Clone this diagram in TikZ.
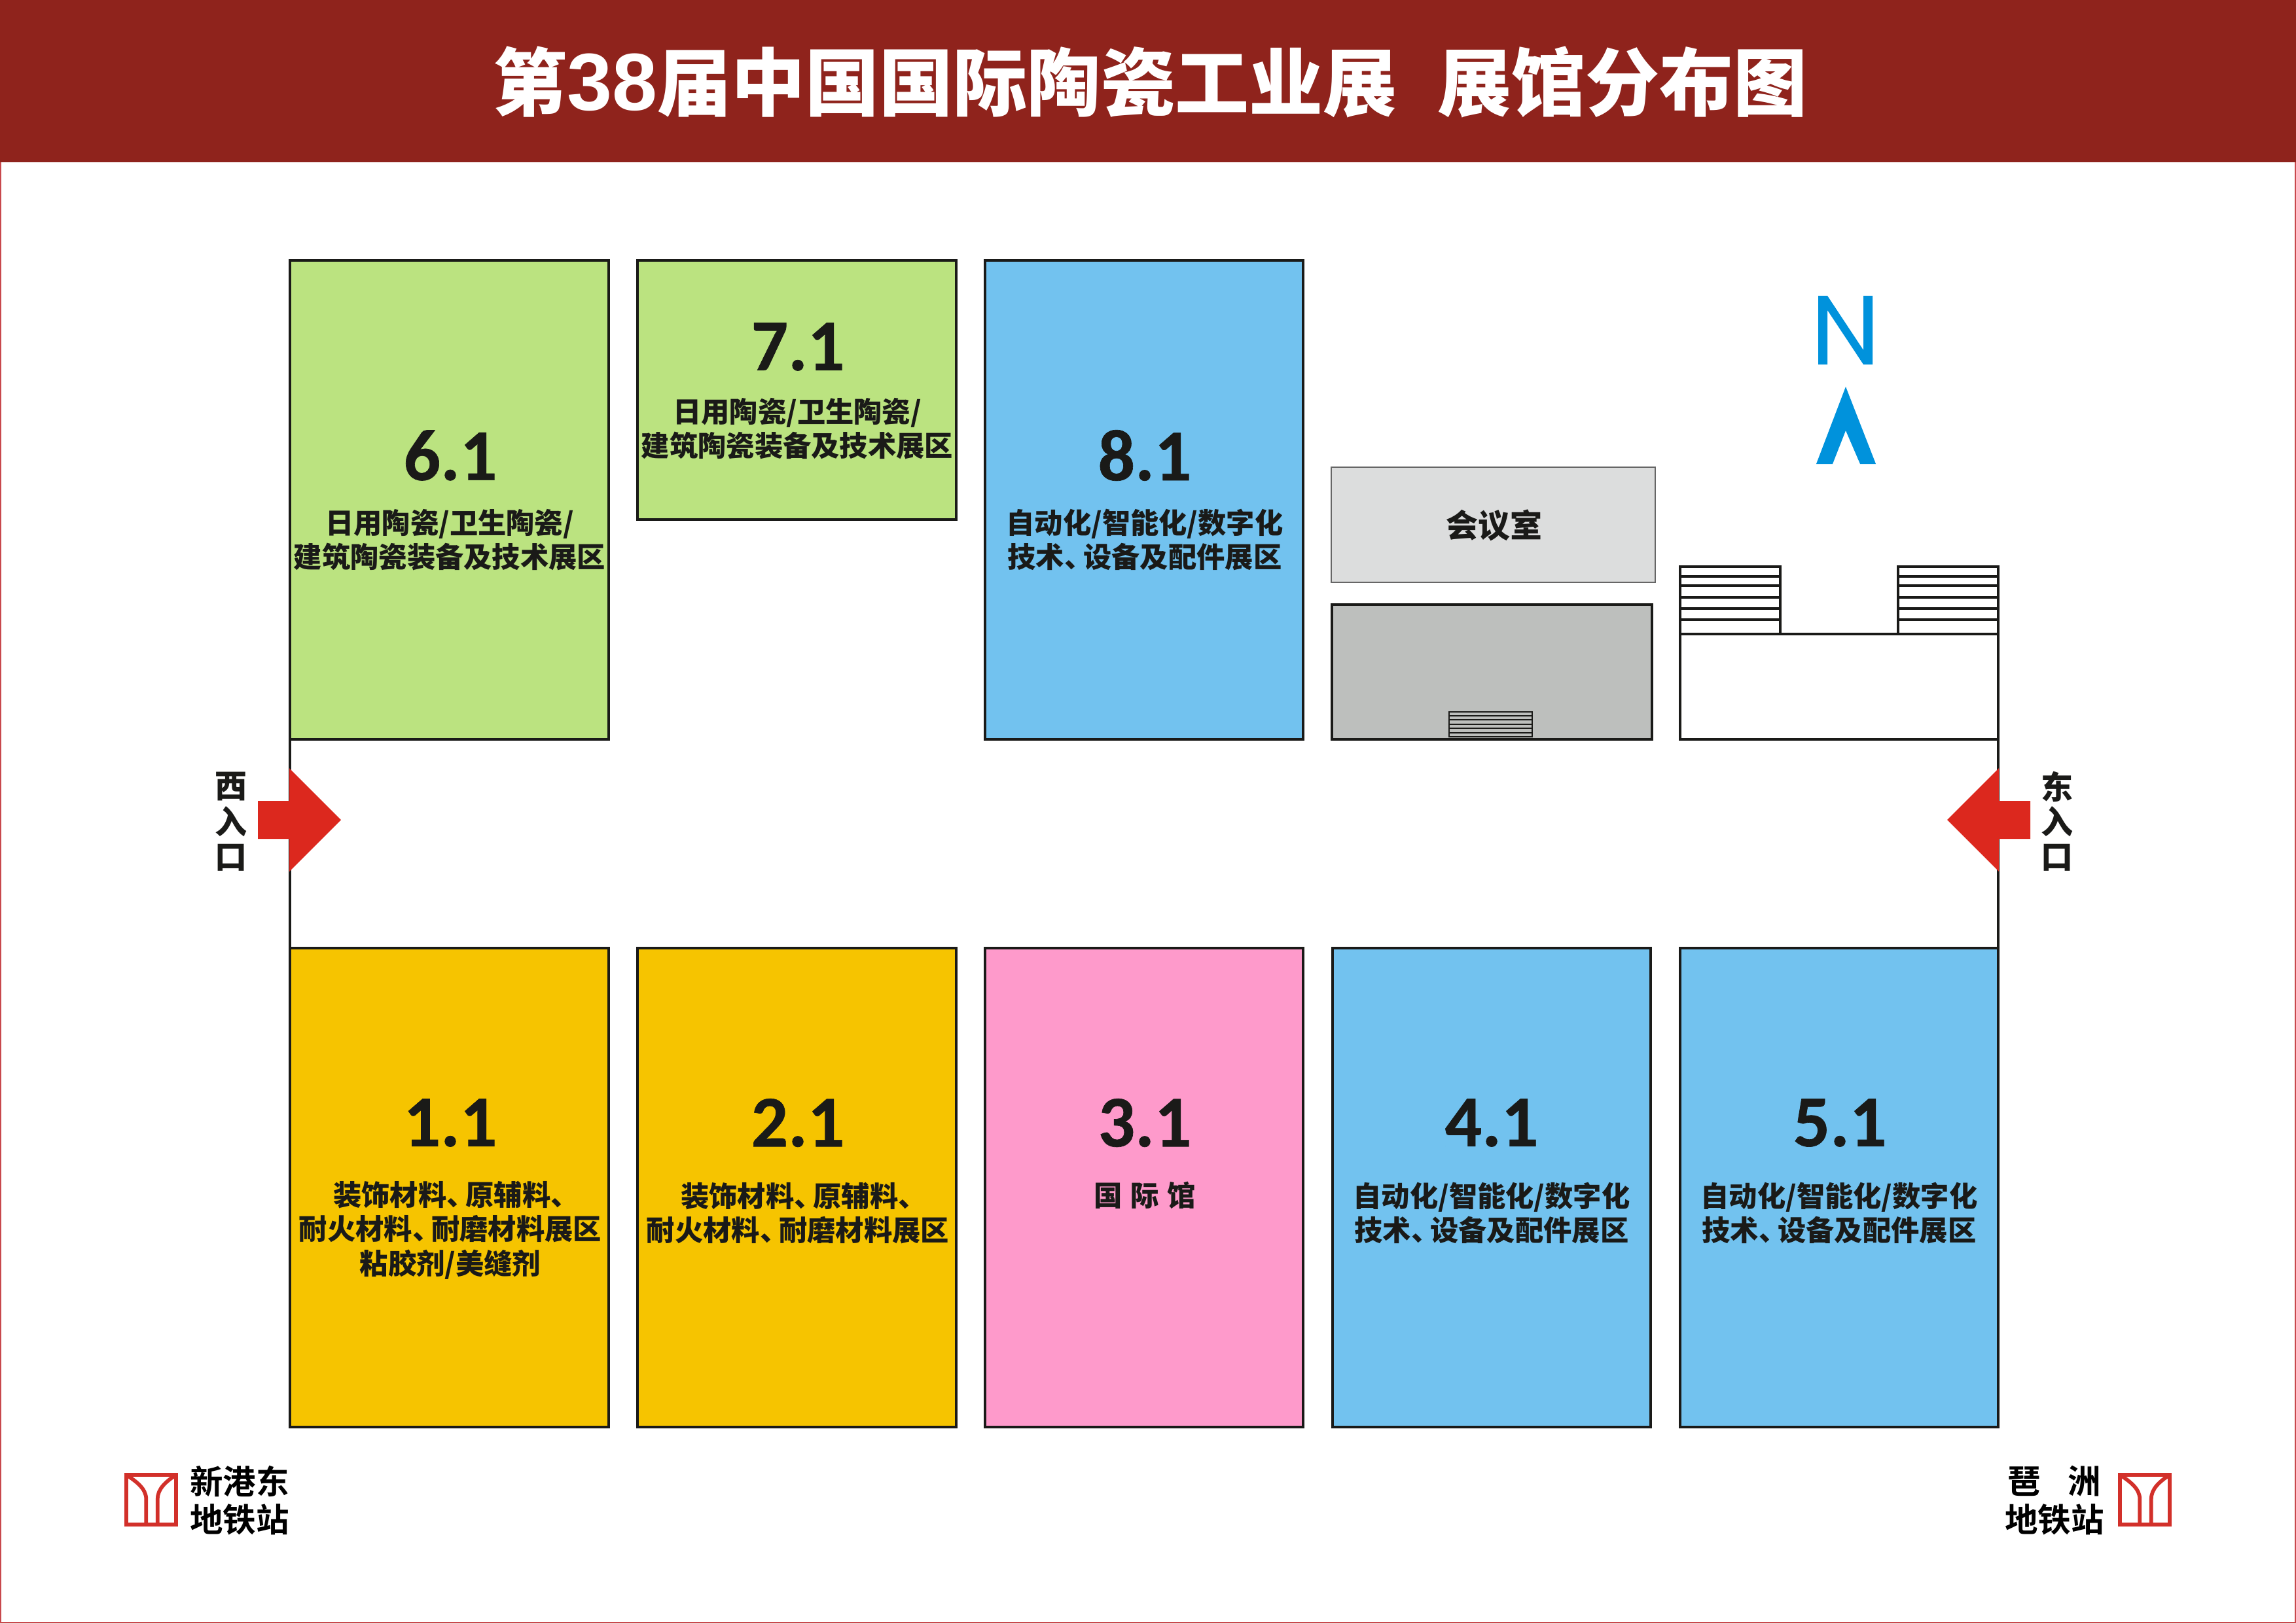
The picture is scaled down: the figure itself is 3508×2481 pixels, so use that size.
\documentclass[tikz,border=0pt]{standalone}
\usepackage{fontspec}
\setmainfont{Noto Sans CJK SC}[BoldFont={Noto Sans CJK SC Bold}]
\newfontfamily\numfont{Carlito Bold}[FakeBold=0.6]
\newfontfamily\blackfont{Noto Sans CJK SC Black}
\newfontfamily\medfont{Noto Sans CJK SC Bold}
\newfontfamily\titledigits{Liberation Sans Bold}
\definecolor{banner}{HTML}{8F231C}
\definecolor{frameline}{HTML}{C8484C}
\definecolor{hallgreen}{HTML}{BBE380}
\definecolor{hallblue}{HTML}{72C2EF}
\definecolor{hallyellow}{HTML}{F6C400}
\definecolor{hallpink}{HTML}{FE9ACB}
\definecolor{meetgray}{HTML}{DCDDDD}
\definecolor{blockgray}{HTML}{BDBFBD}
\definecolor{entryred}{HTML}{DC281E}
\definecolor{logored}{HTML}{D2302A}
\definecolor{northblue}{HTML}{0092DC}
\definecolor{inkblack}{HTML}{1A1A18}
\newcommand{\dun}{、\hspace{-0.33em}}
\newcommand{\dunend}{\rlap{、}\kern0.59em}
\tikzset{
  hallbox/.style={draw=inkblack,line width=0.8pt},
  hallnum/.style={font=\numfont\fontsize{22.3}{26}\selectfont,text=inkblack,inner sep=0pt},
  halltext/.style={font=\blackfont\fontsize{8.66}{10.5}\selectfont,text=inkblack,align=center,inner sep=0pt},
  entrytext/.style={font=\blackfont\fontsize{9.8}{11}\selectfont,text=inkblack,inner sep=0pt},
  metrotext/.style={font=\medfont\fontsize{10.1}{11}\selectfont,text=black,inner sep=0pt},
  metrologo/.style={draw=logored,line width=1.15pt},
  thinline/.style={draw=inkblack,line width=0.22pt},
  stairline/.style={draw=inkblack,line width=0.8pt}
}
\newcommand{\metrosign}[1]{%
  \begin{scope}[xshift=#1*0.2pt]
    \draw[metrologo,miter limit=10] (2.9,2253.9) rectangle (79.1,2330.1);
    \draw[metrologo] (3,2254) .. controls (18,2264) and (33.3,2275) .. (33.3,2291) -- (33.3,2330);
    \draw[metrologo] (79,2254) .. controls (64,2264) and (50.8,2275) .. (50.8,2291) -- (50.8,2330);
  \end{scope}}
\begin{document}
\begin{tikzpicture}[x=0.2pt,y=-0.2pt]
\useasboundingbox (0,0) rectangle (3508,2481);
\fill[white] (0,0) rectangle (3508,2481);
\draw[frameline,line width=0.5pt] (1,1) rectangle (3507,2480);
\fill[banner] (0,0) rectangle (3508,248);
\node[font=\blackfont\fontsize{22.6}{26}\selectfont,text=white,inner sep=0pt] (title) at (1758,125) {第{\titledigits\fontsize{24.8}{26}\selectfont 38}届中国国际陶瓷工业展\hspace{0.55em}展馆分布图};

% corridor walls
\coordinate (wnw) at (443,1130); \coordinate (wsw) at (443,1449);
\coordinate (ene) at (3053,1130); \coordinate (ese) at (3053,1449);
\draw[hallbox] (wnw) -- (wsw);
\draw[hallbox] (ene) -- (ese);

% halls
\draw[hallbox,fill=hallgreen] (443,398) rectangle (930,1130);
\draw[hallbox,fill=hallgreen] (974,398) rectangle (1461,794);
\draw[hallbox,fill=hallblue] (1505,398) rectangle (1991,1130);
\draw[hallbox,fill=hallyellow] (443,1449) rectangle (930,2181);
\draw[hallbox,fill=hallyellow] (974,1449) rectangle (1461,2181);
\draw[hallbox,fill=hallpink] (1505,1449) rectangle (1991,2181);
\draw[hallbox,fill=hallblue] (2036,1449) rectangle (2522,2181);
\draw[hallbox,fill=hallblue] (2567,1449) rectangle (3053,2181);

\node[hallnum] (n61) at (688,696) {6.1};
\node[halltext] (t61) at (687,825) {日用陶瓷/卫生陶瓷/\\建筑陶瓷装备及技术展区};
\node[hallnum] (n71) at (1219,530) {7.1};
\node[halltext] (t71) at (1218,655) {日用陶瓷/卫生陶瓷/\\建筑陶瓷装备及技术展区};
\node[hallnum] (n81) at (1749,696) {8.1};
\node[halltext] (t81) at (1749,825) {自动化/智能化/数字化\\技术\dun 设备及配件展区};
\node[hallnum] (n11) at (688,1716) {1.1};
\node[halltext] (t11) at (688,1880) {装饰材料\dun 原辅料\dunend\\耐火材料\dun 耐磨材料展区\\粘胶剂/美缝剂};
\node[hallnum] (n21) at (1219,1716) {2.1};
\node[halltext] (t21) at (1219,1854) {装饰材料\dun 原辅料\dunend\\耐火材料\dun 耐磨材料展区};
\node[hallnum] (n31) at (1749,1716) {3.1};
\node[halltext] (t31) at (1749,1827) {国\hspace{0.3em}际\hspace{0.3em}馆};
\node[hallnum] (n41) at (2279,1716) {4.1};
\node[halltext] (t41) at (2279,1854) {自动化/智能化/数字化\\技术\dun 设备及配件展区};
\node[hallnum] (n51) at (2811,1716) {5.1};
\node[halltext] (t51) at (2810,1854) {自动化/智能化/数字化\\技术\dun 设备及配件展区};

% meeting room and grey block
\draw[draw=black!60,line width=0.3pt,fill=meetgray] (2034,714) rectangle (2529,890);
\node[font=\blackfont\fontsize{9.8}{11}\selectfont,text=inkblack,inner sep=0pt] (meet) at (2283,803) {会议室};
\draw[hallbox,fill=blockgray] (2035,924) rectangle (2524,1130);
\draw[thinline] (2214,1088) rectangle (2341,1126);
\foreach \yy in {1094,1100,1107,1113,1120} \draw[thinline] (2214,\yy) -- (2341,\yy);

% east building with stairs
\draw[hallbox] (2567,969) rectangle (3053,1130);
\draw[hallbox] (2567,866) rectangle (2720,969);
\draw[hallbox] (2900,866) rectangle (3053,969);
\foreach \yy in {881,895,913,930,947} {
  \draw[stairline] (2567,\yy) -- (2720,\yy);
  \draw[stairline] (2900,\yy) -- (3053,\yy);
}

% north mark
\fill[northblue] (2778,452) -- (2792,452) -- (2847,535) -- (2847,452) -- (2861,452) -- (2861,557) -- (2847,557) -- (2792,474) -- (2792,557) -- (2778,557) -- cycle;
\fill[northblue] (2820,591) -- (2866,709) -- (2842,709) -- (2820,658) -- (2800,709) -- (2775,709) -- cycle;

% entries
\fill[entryred] (394,1224) -- (442,1224) -- (442,1174) -- (521,1253) -- (442,1332) -- (442,1282) -- (394,1282) -- cycle;
\fill[entryred] (3102,1224) -- (3054,1224) -- (3054,1174) -- (2975,1253) -- (3054,1332) -- (3054,1282) -- (3102,1282) -- cycle;
\node[entrytext] (w1) at (353,1202) {西};
\node[entrytext] (w2) at (353,1256) {入};
\node[entrytext] (w3) at (353,1311) {口};
\node[entrytext] (e1) at (3143,1202) {东};
\node[entrytext] (e2) at (3143,1256) {入};
\node[entrytext] (e3) at (3143,1311) {口};

% metro
\metrosign{190}
\metrosign{3236}
\node[metrotext] (m1) at (366,2264) {新港东};
\node[metrotext] (m2) at (366,2322) {地铁站};
\node[metrotext] (m3) at (3093,2264) {琶};
\node[metrotext] (m4) at (3185,2264) {洲};
\node[metrotext] (m5) at (3139,2322) {地铁站};
\end{tikzpicture}
\end{document}
